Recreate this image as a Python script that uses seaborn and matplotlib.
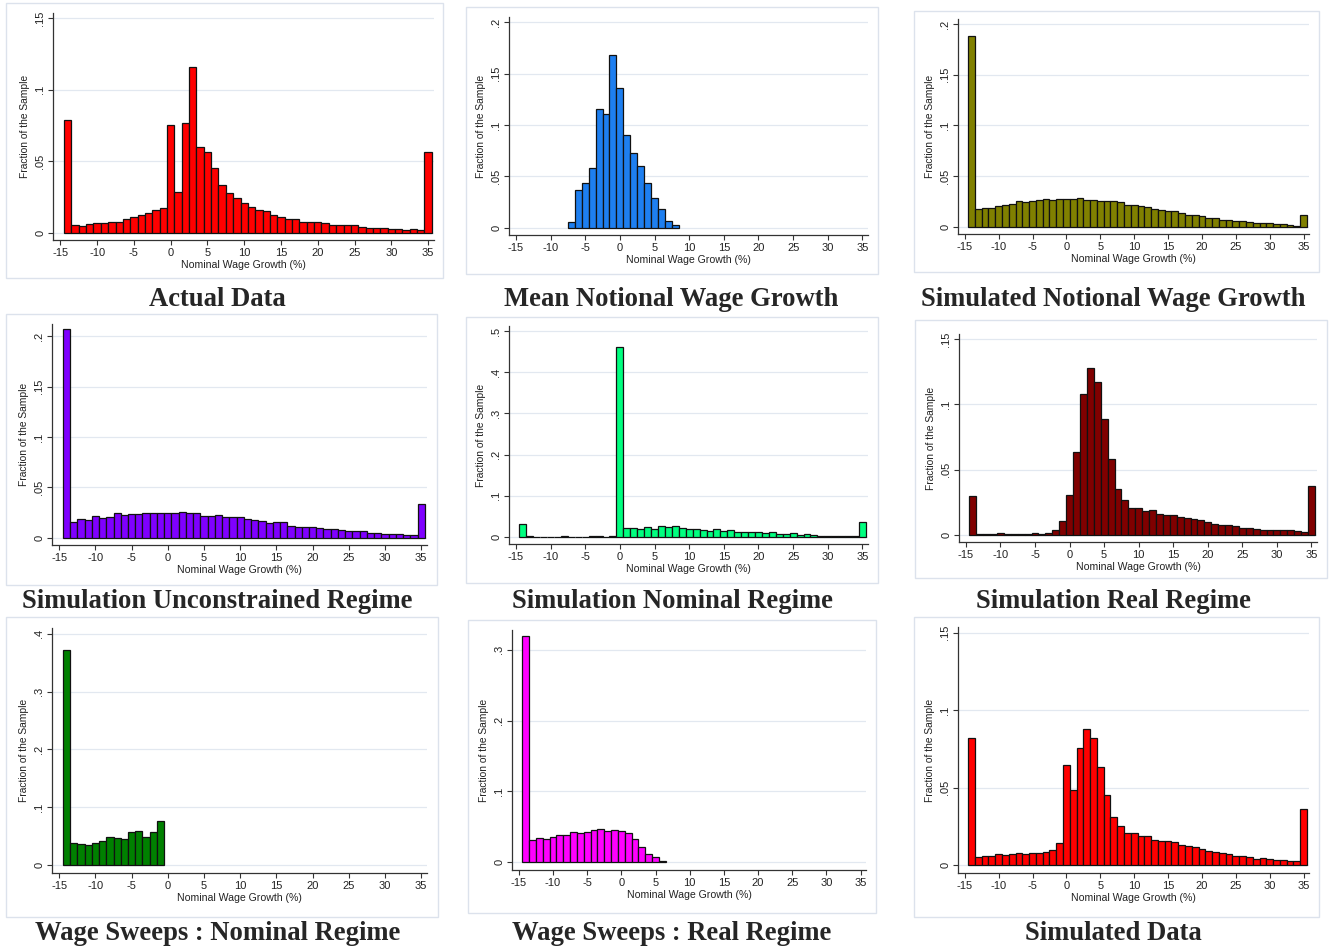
import numpy as np
import pandas as pd
import matplotlib
matplotlib.use('Agg')
import matplotlib.pyplot as plt
import seaborn as sns
from matplotlib.patches import Rectangle

# bar heights (fraction of sample), one bar per 1-point bin, bins centred on integers
actual_start = -14
actual_data = [0.0786, 0.0052, 0.0047, 0.0063, 0.0070, 0.0070, 0.0077, 0.0077, 0.0092, 0.0106,
               0.0120, 0.0134, 0.0155, 0.0169, 0.0754, 0.0282, 0.0770, 0.1160, 0.0600, 0.0563,
               0.0455, 0.0333, 0.0275, 0.0244, 0.0207, 0.0180, 0.0160, 0.0148, 0.0124, 0.0106,
               0.0096, 0.0092, 0.0077, 0.0077, 0.0077, 0.0070, 0.0056, 0.0056, 0.0052, 0.0050,
               0.0042, 0.0035, 0.0035, 0.0035, 0.0028, 0.0028, 0.0021, 0.0026, 0.0021, 0.0563]

mean_notional_start = -7
mean_notional = [0.0058, 0.0368, 0.0435, 0.0577, 0.1155, 0.1106, 0.1680, 0.1358, 0.0900, 0.0726,
                 0.0603, 0.0435, 0.0290, 0.0180, 0.0068, 0.0029]

sim_notional_start = -14
sim_notional = [0.1880, 0.0174, 0.0190, 0.0190, 0.0210, 0.0217, 0.0227, 0.0253, 0.0243, 0.0253,
                0.0263, 0.0273, 0.0263, 0.0273, 0.0273, 0.0273, 0.0283, 0.0263, 0.0263, 0.0253,
                0.0253, 0.0253, 0.0243, 0.0220, 0.0220, 0.0204, 0.0194, 0.0174, 0.0164, 0.0154,
                0.0154, 0.0135, 0.0118, 0.0115, 0.0108, 0.0092, 0.0085, 0.0072, 0.0066, 0.0059,
                0.0056, 0.0046, 0.0039, 0.0036, 0.0036, 0.0026, 0.0026, 0.0023, 0.0013, 0.0115]

unconstrained_start = -14
unconstrained = [0.2070, 0.0160, 0.0184, 0.0180, 0.0213, 0.0200, 0.0210, 0.0243, 0.0223, 0.0240,
                 0.0240, 0.0250, 0.0246, 0.0250, 0.0243, 0.0250, 0.0252, 0.0243, 0.0250, 0.0220,
                 0.0220, 0.0230, 0.0210, 0.0203, 0.0203, 0.0187, 0.0174, 0.0164, 0.0144, 0.0151,
                 0.0151, 0.0121, 0.0108, 0.0111, 0.0102, 0.0095, 0.0085, 0.0082, 0.0072, 0.0066,
                 0.0062, 0.0062, 0.0046, 0.0046, 0.0036, 0.0033, 0.0033, 0.0023, 0.0023, 0.0331]

nominal_start = -14
nominal_regime = [0.0310, 0.0020, 0.0, 0.0, 0.0, 0.0, 0.0010, 0.0, 0.0, 0.0,
                  0.0020, 0.0010, 0.0, 0.0010, 0.4620, 0.0210, 0.0226, 0.0194, 0.0242, 0.0194,
                  0.0274, 0.0242, 0.0258, 0.0218, 0.0194, 0.0200, 0.0177, 0.0145, 0.0194, 0.0129,
                  0.0169, 0.0105, 0.0121, 0.0121, 0.0121, 0.0097, 0.0105, 0.0065, 0.0073, 0.0097,
                  0.0048, 0.0065, 0.0040, 0.0024, 0.0024, 0.0024, 0.0024, 0.0024, 0.0016, 0.0363]

real_start = -14
real_regime = [0.0296, 0.0008, 0.0008, 0.0008, 0.0015, 0.0008, 0.0008, 0.0008, 0.0008, 0.0015,
               0.0008, 0.0015, 0.0040, 0.0107, 0.0308, 0.0634, 0.1077, 0.1280, 0.1174, 0.0888,
               0.0585, 0.0353, 0.0269, 0.0209, 0.0209, 0.0184, 0.0192, 0.0164, 0.0157, 0.0157,
               0.0142, 0.0134, 0.0122, 0.0112, 0.0097, 0.0085, 0.0077, 0.0075, 0.0067, 0.0052,
               0.0052, 0.0045, 0.0037, 0.0040, 0.0040, 0.0037, 0.0037, 0.0030, 0.0022, 0.0373]

sweeps_nominal_start = -14
sweeps_nominal = [0.3725, 0.0384, 0.0361, 0.0344, 0.0372, 0.0413, 0.0476, 0.0464, 0.0441, 0.0562,
                  0.0579, 0.0476, 0.0562, 0.0768]

sweeps_real_start = -14
sweeps_real = [0.3200, 0.0305, 0.0343, 0.0333, 0.0357, 0.0376, 0.0376, 0.0427, 0.0413, 0.0427,
               0.0451, 0.0465, 0.0437, 0.0455, 0.0446, 0.0413, 0.0329, 0.0207, 0.0117, 0.0066,
               0.0019]

simulated_start = -14
simulated_data = [0.0820, 0.0052, 0.0060, 0.0060, 0.0071, 0.0064, 0.0071, 0.0079, 0.0073, 0.0079,
                  0.0079, 0.0084, 0.0097, 0.0142, 0.0646, 0.0481, 0.0755, 0.0878, 0.0818, 0.0631,
                  0.0451, 0.0309, 0.0251, 0.0208, 0.0204, 0.0187, 0.0187, 0.0161, 0.0155, 0.0155,
                  0.0148, 0.0131, 0.0122, 0.0116, 0.0105, 0.0092, 0.0082, 0.0077, 0.0073, 0.0060,
                  0.0058, 0.0052, 0.0041, 0.0045, 0.0039, 0.0032, 0.0032, 0.0026, 0.0026, 0.0358]

titles = ['Actual Data', 'Mean Notional Wage Growth', 'Simulated Notional Wage Growth',
          'Simulation Unconstrained Regime', 'Simulation Nominal Regime', 'Simulation Real Regime',
          'Wage Sweeps : Nominal Regime', 'Wage Sweeps : Real Regime', 'Simulated Data']
series = [actual_data, mean_notional, sim_notional, unconstrained, nominal_regime,
          real_regime, sweeps_nominal, sweeps_real, simulated_data]
starts = [actual_start, mean_notional_start, sim_notional_start, unconstrained_start,
          nominal_start, real_start, sweeps_nominal_start, sweeps_real_start, simulated_start]
colors = ['#FF0000', '#1E7FF0', '#808000', '#7F00FF', '#00FF7F',
          '#800000', '#008000', '#FF00FF', '#FF0000']
ytick_sets = [[0, .05, .1, .15], [0, .05, .1, .15, .2], [0, .05, .1, .15, .2],
              [0, .05, .1, .15, .2], [0, .1, .2, .3, .4, .5], [0, .05, .1, .15],
              [0, .1, .2, .3, .4], [0, .1, .2, .3], [0, .05, .1, .15]]
xticks = list(range(-15, 40, 5))

# pixel layout: plot area (l, t, r, b), outer frame (l, t, r, b), title centre (x, y)
W, H = 1329, 950
plot_px = [(53, 13, 434, 240), (509, 17, 868, 235), (958, 19, 1309, 234),
           (52, 324, 427, 545), (509, 326, 868, 544), (959, 334, 1317, 542),
           (52, 628, 427, 873), (512, 630, 866, 870), (958, 627, 1309, 873)]
frame_px = [(6, 3, 443, 278), (466, 7, 878, 274), (914, 11, 1319, 272),
            (6, 314, 437, 585), (466, 317, 878, 583), (915, 320, 1327, 578),
            (6, 617, 438, 917), (468, 620, 876, 913), (914, 617, 1319, 917)]
title_px = [(217, 300), (671, 300), (1113, 300),
            (217, 602), (672, 602), (1114, 602),
            (218, 933), (672, 933), (1113, 933)]

sns.set_style('white')
plt.rcParams['font.family'] = ['Liberation Sans', 'DejaVu Sans']
plt.rcParams['axes.unicode_minus'] = False


def stata_fmt(v):
    return '0' if v == 0 else ('%g' % v).lstrip('0')


fig = plt.figure(figsize=(W / 100, H / 100), dpi=100)

for i in range(9):
    vals = np.array(series[i])
    df = pd.DataFrame({'growth': np.arange(starts[i], starts[i] + len(vals)), 'fraction': vals})
    df = df[df['fraction'] > 0]

    l, t, r, b = plot_px[i]
    ax = fig.add_axes([l / W, 1 - b / H, (r - l) / W, (b - t) / H])
    sns.histplot(data=df, x='growth', weights='fraction', discrete=True, color=colors[i],
                 edgecolor='#111111', linewidth=0.9, alpha=1, ax=ax)

    yt = ytick_sets[i]
    top = max(yt[-1], vals.max())
    ax.set_ylim(-0.035 * top, top * 1.025)
    ax.set_xlim(-16, 35.8)
    ax.set_yticks(yt)
    ax.set_yticklabels([stata_fmt(v) for v in yt], rotation=90, va='center', fontsize=8, color='#222222')
    ax.set_xticks(xticks)
    ax.set_xticklabels([str(v) for v in xticks], fontsize=8, color='#222222')
    ax.set_ylabel('Fraction of the Sample', fontsize=7.4, color='#222222', labelpad=4)
    ax.set_xlabel('Nominal Wage Growth (%)', fontsize=7.6, color='#222222', labelpad=1.5)
    ax.yaxis.grid(True, color='#E2E8F0', lw=0.9)
    ax.xaxis.grid(False)
    ax.set_axisbelow(True)
    for side in ['top', 'right']:
        ax.spines[side].set_visible(False)
    for side in ['left', 'bottom']:
        ax.spines[side].set_color('#333333')
        ax.spines[side].set_linewidth(0.9)
    ax.tick_params(axis='both', direction='out', length=3.5, width=0.8, color='#333333', pad=2,
                   left=True, bottom=True)

    fl, ft, fr, fb = frame_px[i]
    fig.add_artist(Rectangle((fl / W, 1 - fb / H), (fr - fl) / W, (fb - ft) / H,
                             transform=fig.transFigure, fill=False, edgecolor='#DCE2EC', lw=1))

    cx, cy = title_px[i]
    fig.text(cx / W, 1 - cy / H, titles[i], ha='center', va='center', fontsize=19.2,
             fontweight='bold', family=['Liberation Serif', 'DejaVu Serif'])

fig.savefig('out.png', dpi=100)
